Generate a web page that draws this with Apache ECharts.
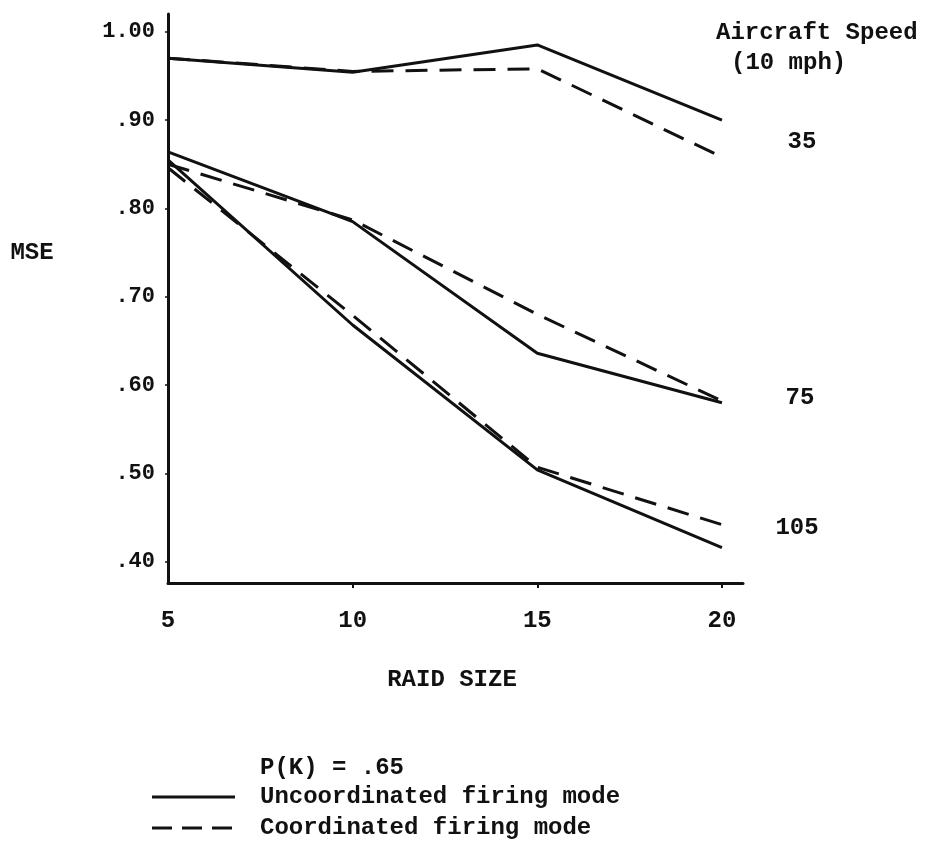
<!DOCTYPE html>
<html>
<head>
<meta charset="utf-8">
<title>MSE vs Raid Size</title>
<script src="https://cdn.jsdelivr.net/npm/echarts@6/dist/echarts.min.js"></script>
<style>
  html, body { margin: 0; padding: 0; background: #fff; }
  #chart { width: 928px; height: 843px; }
</style>
</head>
<body>
<div id="chart"></div>
<script>
// Raid size on the x axis
const raidSize = [5, 10, 15, 20];

// MSE by aircraft speed (10 mph units), uncoordinated vs coordinated firing
const uncoord35  = [0.970, 0.954, 0.985, 0.900];
const coord35    = [0.970, 0.955, 0.958, 0.858];
const uncoord75  = [0.864, 0.785, 0.636, 0.580];
const coord75    = [0.850, 0.787, 0.680, 0.582];
const uncoord105 = [0.855, 0.668, 0.504, 0.416];
const coord105   = [0.846, 0.679, 0.507, 0.442];

// Tick labels
const xTicks = [5, 10, 15, 20];
const yTicks = [0.4, 0.5, 0.6, 0.7, 0.8, 0.9, 1.0];

const UNC = 'Uncoordinated firing mode';
const CRD = 'Coordinated firing mode';

const FONT = '"Liberation Mono", "DejaVu Sans Mono", monospace';
const INK = '#111';
const DASH = [22, 12];

function pairs(ys) { return raidSize.map((x, i) => [x, ys[i]]); }

function solid(ys) {
  return {
    name: UNC, type: 'line', data: pairs(ys), symbol: 'none', silent: true,
    lineStyle: { color: INK, width: 3, type: 'solid' }, itemStyle: { color: INK }
  };
}
function dashed(ys) {
  return {
    name: CRD, type: 'line', data: pairs(ys), symbol: 'none', silent: true,
    lineStyle: { color: INK, width: 3, type: DASH }, itemStyle: { color: INK }
  };
}

function yLabel(v) {
  if (Math.abs(v - 1) < 1e-9) return '1.00';
  return '.' + Math.round(v * 100);
}

const textStyle = { fontFamily: FONT, fontSize: 24, fontWeight: 'bold', fill: INK };

function label(text, x, y, align) {
  return {
    type: 'text', x: x, y: y, silent: true,
    style: Object.assign({}, textStyle, { text: text, align: align || 'left', verticalAlign: 'middle' })
  };
}

// Legend key: a short stroke sample followed by its caption
function key(y, dash, text) {
  return [
    {
      type: 'line', silent: true,
      shape: { x1: 152, y1: y, x2: 235, y2: y },
      style: { stroke: INK, lineWidth: 3, lineDash: dash }
    },
    label(text, 260, y)
  ];
}

const chart = echarts.init(document.getElementById('chart'), null, { renderer: 'canvas' });

chart.setOption({
  backgroundColor: '#fff',
  animation: false,
  grid: { left: 168, right: 185, top: 14, bottom: 260, containLabel: false },
  xAxis: {
    type: 'value', min: 5, max: 20.57,
    axisLine: { show: true, lineStyle: { color: INK, width: 3 } },
    axisTick: { show: true, customValues: xTicks.slice(1), length: 5, lineStyle: { color: INK, width: 2 } },
    axisLabel: {
      customValues: xTicks, margin: 26, color: INK,
      fontFamily: FONT, fontSize: 24, fontWeight: 'bold', formatter: v => String(v)
    },
    splitLine: { show: false }
  },
  yAxis: {
    type: 'value', min: 0.376, max: 1.02,
    axisLine: { show: true, lineStyle: { color: INK, width: 3 } },
    axisTick: { show: true, customValues: yTicks, length: 3, lineStyle: { color: INK, width: 1.5 } },
    axisLabel: {
      customValues: yTicks, margin: 13, color: INK,
      fontFamily: FONT, fontSize: 22, fontWeight: 'bold', formatter: yLabel
    },
    splitLine: { show: false }
  },
  series: [
    solid(uncoord35), dashed(coord35),
    solid(uncoord75), dashed(coord75),
    solid(uncoord105), dashed(coord105)
  ],
  graphic: [
    label('MSE', 32, 253, 'center'),
    label('RAID SIZE', 452, 680, 'center'),
    label('Aircraft Speed', 716, 33),
    label('(10 mph)', 731, 63),
    label('35', 802, 142, 'center'),
    label('75', 800, 398, 'center'),
    label('105', 797, 528, 'center'),
    label('P(K) = .65', 260, 768)
  ].concat(key(797, null, UNC), key(828, [20, 10], CRD))
});
</script>
</body>
</html>
